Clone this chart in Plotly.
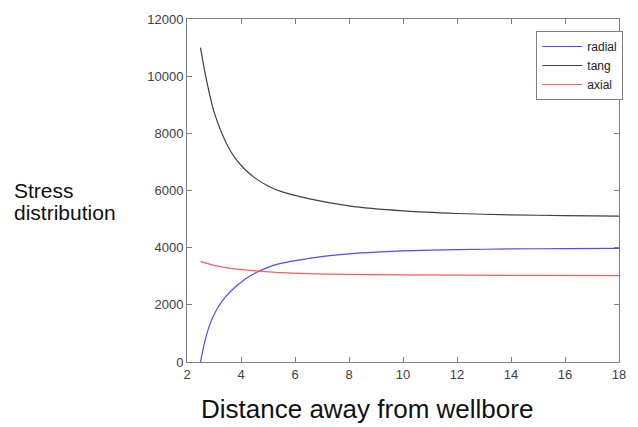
import plotly.graph_objects as go

# Data
radial_x = [2.5, 2.66, 2.84, 3.08, 3.4, 3.82, 4.2, 4.67, 5.2, 5.88, 6.5, 7.22, 8, 9, 10, 12, 14, 16, 18]
radial_y = [0, 720, 1300, 1800, 2250, 2650, 2930, 3180, 3380, 3530, 3620, 3715, 3785, 3845, 3885, 3930, 3955, 3968, 3978]

tang_x = [2.5, 2.65, 2.84, 3.0, 3.3, 3.6, 3.85, 4.12, 4.5, 5.0, 5.5, 6.5, 8, 10, 12, 14, 16, 18]
tang_y = [11000, 10200, 9350, 8750, 7980, 7400, 7050, 6760, 6450, 6160, 5960, 5715, 5460, 5285, 5195, 5148, 5123, 5105]

axial_x = [2.5, 3.0, 3.5, 3.75, 4.67, 5.88, 7.2, 10, 14, 18]
axial_y = [3520, 3380, 3290, 3260, 3180, 3110, 3075, 3045, 3030, 3020]

x_ticks = [2, 4, 6, 8, 10, 12, 14, 16, 18]
y_ticks = [0, 2000, 4000, 6000, 8000, 10000, 12000]
y_tick_labels = ["0", "2000", "4000", "6000", "8000", "10000", "12000"]

fig = go.Figure()
fig.add_trace(go.Scatter(x=radial_x, y=radial_y, mode="lines", name="radial",
                         line=dict(color="#4d4dff", width=1.2, shape="spline", smoothing=0.8)))
fig.add_trace(go.Scatter(x=tang_x, y=tang_y, mode="lines", name="tang",
                         line=dict(color="#404040", width=1.2, shape="spline", smoothing=0.8)))
fig.add_trace(go.Scatter(x=axial_x, y=axial_y, mode="lines", name="axial",
                         line=dict(color="#ff5c5c", width=1.2, shape="spline", smoothing=0.8)))

axis_common = dict(showgrid=False, zeroline=False, showline=True, mirror="ticks",
                   linecolor="#808080", linewidth=1, ticks="inside", ticklen=5,
                   tickcolor="#808080",
                   tickfont=dict(family="Liberation Sans, Arial", size=13, color="#404040"))

fig.update_xaxes(range=[2, 18], tickvals=x_ticks, **axis_common)
fig.update_yaxes(range=[0, 12000], tickvals=y_ticks, ticktext=y_tick_labels, **axis_common)

fig.update_layout(
    width=638, height=427,
    margin=dict(l=187, r=13, t=15, b=65),
    paper_bgcolor="white", plot_bgcolor="white",
    font=dict(family="Liberation Sans, Arial", color="#222"),
    showlegend=True,
    legend=dict(x=1.01, y=0.965, xanchor="right", yanchor="top",
                bgcolor="white", bordercolor="#808080", borderwidth=1,
                itemwidth=40, font=dict(size=12, color="#222"), tracegroupgap=0),
    annotations=[
        dict(text="Stress", xref="paper", yref="paper", x=(10 - 187) / 438, y=(362 - 189) / 347,
             xanchor="left", yanchor="middle", showarrow=False,
             font=dict(size=21, color="#111")),
        dict(text="distribution", xref="paper", yref="paper", x=(10 - 187) / 438, y=(362 - 211) / 347,
             xanchor="left", yanchor="middle", showarrow=False,
             font=dict(size=21, color="#111")),
        dict(text="Distance away from wellbore", xref="paper", yref="paper",
             x=(370 - 187) / 438, y=(362 - 427) / 347, xanchor="center", yanchor="bottom",
             showarrow=False, font=dict(size=26, color="#111")),
    ],
)

fig.write_html("out.html", config={"displayModeBar": False},
               post_script="document.body.style.margin='0';document.body.style.padding='0';")
